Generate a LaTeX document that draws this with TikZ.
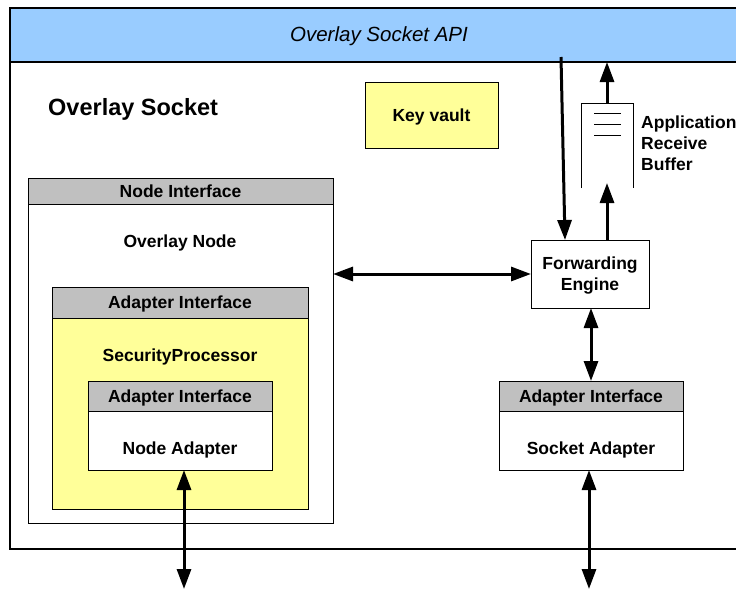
\documentclass[tikz,border=0pt]{standalone}
\usepackage{fontspec}
\setmainfont{Liberation Sans}
\usetikzlibrary{arrows.meta,calc}
\definecolor{apiblue}{HTML}{99CCFF}
\definecolor{padyellow}{HTML}{FFFF99}
\definecolor{hdrgray}{HTML}{C0C0C0}
\tikzset{
  box/.style={draw, line width=1pt, inner sep=0pt, outer sep=0pt, anchor=north west},
  hdr/.style={box, fill=hdrgray, font=\fontsize{17.5}{21}\selectfont\bfseries, text height=12.6pt, text depth=0pt},
  lbl/.style={font=\fontsize{17.5}{21}\selectfont\bfseries, inner sep=0pt, text height=12.6pt, text depth=0pt},
  mlbl/.style={font=\fontsize{17.5}{21}\selectfont\bfseries, inner sep=0pt},
  tip/.style={Triangle[length=20pt,width=14pt]},
  arr/.style={line width=3pt, -{Triangle[length=20pt,width=14pt]}},
  darr/.style={line width=3pt, {Triangle[length=20pt,width=14pt]}-{Triangle[length=20pt,width=14pt]}},
}
\begin{document}
\begin{tikzpicture}[x=1pt,y=-1pt]
\useasboundingbox (0,0) rectangle (736,589);
\clip (0,0) rectangle (736,589);

% socket frame and API bar
\node[box, line width=1.4pt, minimum width=740, minimum height=487] (socket) at (10,62) {};
\node[box, line width=1.4pt, fill=apiblue, minimum width=740, minimum height=54] (api) at (10,8) {};
\node[font=\fontsize{20.5}{24}\selectfont\itshape, inner sep=0pt, text height=14.8pt, text depth=0pt] (apitxt) at (379,34) {Overlay Socket API};
\node[font=\fontsize{23.5}{27}\selectfont\bfseries, inner sep=0pt, anchor=west, text height=17pt, text depth=0pt] (sockettxt) at (48,107) {Overlay Socket};

% key vault
\node[box, fill=padyellow, minimum width=133, minimum height=66] (kv) at (365,82) {};
\node[lbl] (kvtxt) at (kv.center) {Key vault};

% overlay node
\node[box, fill=white, minimum width=305, minimum height=345] (on) at (28,178) {};
\node[hdr, minimum width=305, minimum height=26] (onh) at (28,178) {Node Interface};
\node[lbl] (ontxt) at (180,241) {Overlay Node};

% security processor
\node[box, fill=padyellow, minimum width=256, minimum height=222] (sp) at (52,287) {};
\node[hdr, minimum width=256, minimum height=31] (sph) at (52,287) {Adapter Interface};
\node[lbl] (sptxt) at (180,355) {SecurityProcessor};

% node adapter
\node[box, fill=white, minimum width=184, minimum height=89] (na) at (88,381) {};
\node[hdr, minimum width=184, minimum height=30] (nah) at (88,381) {Adapter Interface};
\node[lbl] (natxt) at (180,448) {Node Adapter};

% socket adapter
\node[box, fill=white, minimum width=184, minimum height=89] (sa) at (499,381) {};
\node[hdr, minimum width=184, minimum height=30] (sah) at (499,381) {Adapter Interface};
\node[lbl] (satxt) at (591,448) {Socket Adapter};

% forwarding engine
\node[box, fill=white, minimum width=118, minimum height=68] (fe) at (531,240) {};
\node[mlbl, align=center] (fetxt) at (590,276) {Forwarding\\Engine};

% application receive buffer
\draw[line width=1pt] (581,188) -- (581,103) -- (633,103) -- (633,188);
\foreach \yy in {113,124,135} \draw[line width=1pt] (594,\yy) -- (621,\yy);
\node[mlbl, align=left, anchor=west] (buftxt) at (641,143) {Application\\Receive\\Buffer};

% connector end points
\coordinate (apiin) at (561,57);
\coordinate (feinx) at (565,240);
\coordinate (buftop) at (607,103);
\coordinate (bufin) at (607,183);
\coordinate (nabot) at (184,589);
\coordinate (sabot) at (589,589);

% connectors
\draw[arr] (apiin) -- (feinx);
\draw[arr] (buftop) -- (api.south -| buftop);
\draw[arr] (fe.north -| bufin) -- (bufin);
\draw[darr] (on.east |- fe.west) -- (fe.west);
\draw[darr] (fe.south -| sah.north) -- (sah.north);
\draw[darr] (nabot |- na.south) -- (nabot);
\draw[darr] (sabot |- sa.south) -- (sabot);
\end{tikzpicture}
\end{document}
